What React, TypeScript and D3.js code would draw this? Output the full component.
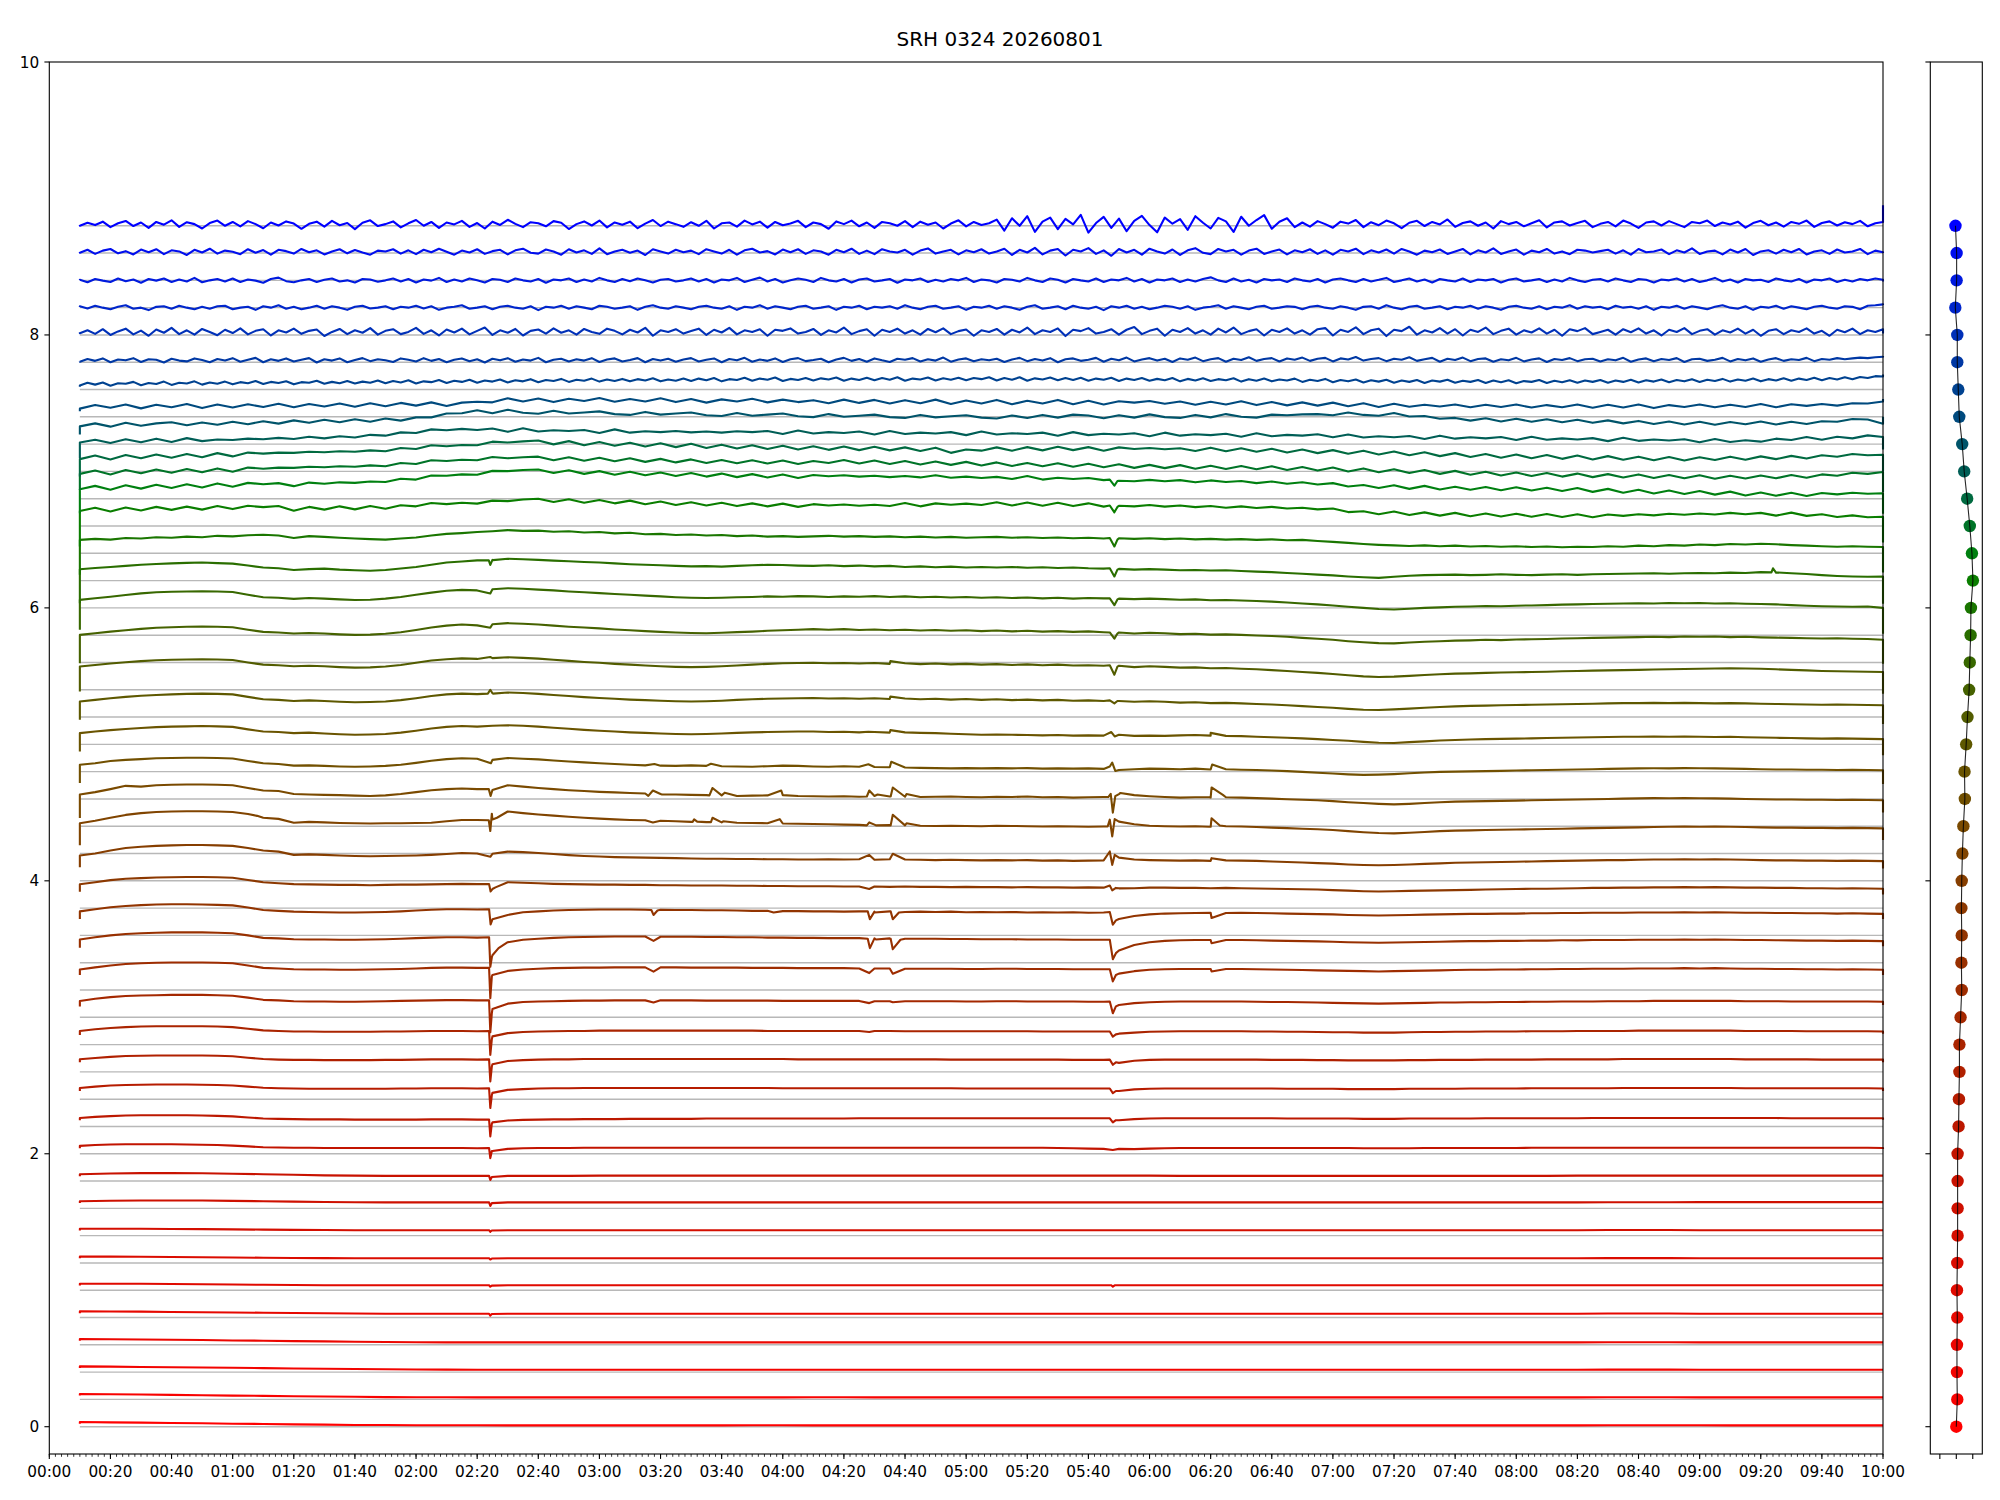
import React from "react";
import * as d3 from "d3";

// ================= DATA =================
const title = "SRH 0324 20260801";

// channel offsets (bottom -> top)
const offsets = [0, 0.2, 0.4, 0.6, 0.8, 1.0, 1.2, 1.4, 1.6, 1.8, 2.0, 2.2, 2.4, 2.6, 2.8, 3.0, 3.2, 3.4, 3.6, 3.8, 4.0, 4.2, 4.4, 4.6, 4.8, 5.0, 5.2, 5.4, 5.6, 5.8, 6.0, 6.2, 6.4, 6.6, 6.8, 7.0, 7.2, 7.4, 7.6, 7.8, 8.0, 8.2, 8.4, 8.6, 8.8];

const colors = ["#ff0000", "#f80200", "#f20400", "#ec0600", "#e60800", "#e00a00", "#da0c00", "#d40e00", "#ce1000", "#c81200", "#c21400", "#bc1800", "#b61c00", "#b02000", "#aa2400", "#a42800", "#9e2c00", "#983000", "#923400", "#8c3800", "#863e00", "#804400", "#7a4a00", "#725000", "#6a5400", "#5e5800", "#525c00", "#466200", "#386800", "#2a6e00", "#1a7600", "#0a7e00", "#008010", "#007428", "#006a40", "#005e56", "#00546a", "#004a7e", "#004290", "#0038a4", "#0030b8", "#0026cc", "#001ade", "#000eee", "#0000ff"];

// side panel marker positions
const dotX = [0.0, 0.06, 0.04, 0.04, 0.06, 0.04, 0.06, 0.08, 0.08, 0.08, 0.08, 0.14, 0.16, 0.19, 0.19, 0.26, 0.33, 0.31, 0.33, 0.31, 0.33, 0.37, 0.43, 0.52, 0.5, 0.6, 0.68, 0.78, 0.82, 0.87, 0.89, 1.01, 0.95, 0.82, 0.66, 0.48, 0.36, 0.18, 0.12, 0.06, 0.06, -0.06, 0.02, 0.02, -0.05];

// first / last sample (thousandths above offset)
const startDev = [22, 28, 30, 30, 32, 35, 34, 38, 40, 35, 40, 45, 60, 70, 70, 80, 110, 110, 120, 120, 100, 60, 60, 116, 148, 180, 187, 195, 239, 234, 242, 249, 294, 264, 162, 96, 70, 40, 20, 5, 20, 4, 2, 8, 5];
const endDev = [10, 15, 17, 18, 28, 36, 34, 40, 46, 40, 35, 50, 60, 70, 80, 90, 110, 120, 120, 100, 90, 100, 100, 110, 120, 150, 170, 190, 210, 230, 260, 280, 290, 250, 200, 160, 200, 130, 110, 45, 10, 20, -8, 0, 150];

// sample series, thousandths of a unit above each channel offset, evenly spaced 00:10 -> 10:00
const dev_0_0 = [34,32,30,27,25,22,20,17,15,13,12,11,11,11,10,10,10,10,10,10,10,10,11,11,10,10,10,10,10,10,10,10,10,10,10,10,10,10,10,10,10,10,10,10,10,10,10,10,10,10,11,11,11,11,10,10,10,10,10,10];
const dev_0_2 = [40,38,36,33,31,28,26,23,21,19,17,16,16,15,15,15,15,15,15,15,15,15,15,15,16,16,15,15,15,15,15,15,15,15,15,15,15,15,15,15,15,15,15,15,15,15,15,15,15,15,16,16,16,15,15,15,15,15,15,15];
const dev_0_4 = [42,40,38,36,34,32,29,27,25,23,21,19,18,17,17,17,17,17,17,17,17,17,17,17,17,17,17,17,17,17,17,17,17,17,17,17,17,17,17,17,17,17,17,17,17,17,17,17,17,17,18,18,18,17,17,17,17,17,17,17];
const dev_0_6 = [42,41,39,37,35,32,30,27,25,23,21,19,18,18,18,18,18,18,18,18,18,18,18,18,18,18,18,18,18,18,18,18,18,18,18,18,18,18,18,18,18,18,18,18,18,18,18,18,18,18,19,19,19,18,18,18,18,18,18,18];
const dev_0_8 = [45,44,43,41,39,37,35,33,31,29,28,28,28,28,28,28,28,28,28,28,28,28,28,28,28,28,28,28,28,28,28,28,28,28,28,28,28,28,28,28,28,28,28,28,28,28,28,28,28,28,29,29,29,28,28,28,28,28,28,28];
const dev_1_0 = [48,48,47,46,44,42,40,38,37,36,36,36,36,36,36,36,36,36,36,36,36,36,36,36,36,36,36,36,36,36,36,36,36,36,36,36,36,36,36,36,36,36,36,36,36,36,36,36,36,36,37,37,37,36,36,36,36,36,36,36];
const dev_1_2 = [46,46,45,44,42,40,38,36,35,34,34,34,34,34,34,34,34,34,34,34,34,34,34,34,34,34,34,34,34,34,34,34,34,34,34,34,34,34,34,34,34,34,34,34,34,34,34,34,34,34,35,35,35,34,34,34,34,34,34,34];
const dev_1_4 = [50,50,50,49,48,46,44,42,41,40,40,40,40,40,40,40,40,40,40,40,40,40,40,40,40,40,40,40,40,40,40,40,40,40,40,40,40,40,40,40,40,40,40,40,40,40,40,40,40,40,41,41,41,40,40,40,40,40,40,40];
const dev_1_6 = [52,56,58,58,57,55,52,49,47,45,44,44,44,44,44,44,44,44,44,44,44,44,44,44,44,44,44,44,44,44,44,44,44,44,44,44,44,44,44,44,44,44,44,44,44,44,44,44,44,44,45,45,45,46,46,46,46,46,46,46];
const dev_1_8 = [50,55,58,58,57,54,50,46,42,40,38,38,38,38,38,38,38,40,40,40,40,40,40,40,40,40,40,40,40,40,40,40,40,40,40,40,38,38,38,38,38,38,38,38,38,38,38,38,38,40,40,40,40,40,40,40,40,40,40,40];
const dev_2_0 = [58,64,68,70,70,70,70,68,66,64,60,54,48,46,44,44,42,42,42,42,42,42,42,42,42,42,40,20,36,40,42,42,42,44,44,44,44,44,44,44,44,44,44,44,44,44,44,44,44,44,44,44,44,44,44,44,44,44,44,44,44,44,44,44,42,40,38,36,36,34,38,40,42,42,42,42,42,42,42,42,42,42,42,42,40,40,40,40,42,42,42,42,42,42,42,44,44,44,44,44,44,44,44,44,44,44,44,44,44,44,44,44,44,44,44,44,44,44,42];
const dev_2_2 = [62,70,76,80,82,82,82,82,80,78,74,66,58,56,54,52,52,52,50,50,50,50,50,52,52,52,50,30,44,48,50,52,52,54,54,54,56,56,56,56,56,58,58,58,58,58,58,58,58,58,58,60,60,60,60,60,60,60,60,60,60,60,60,60,60,60,60,60,46,54,58,60,60,60,60,60,60,60,60,58,58,58,58,58,56,56,56,58,58,58,58,58,60,60,60,60,60,60,60,62,62,62,62,62,62,62,62,62,62,62,62,62,60,60,60,60,60,60,60];
const dev_2_4 = [82,92,100,104,106,108,108,108,106,104,100,92,84,80,78,76,76,76,76,76,76,78,78,80,80,80,78,46,68,74,78,80,80,82,82,82,82,82,82,82,82,82,82,82,82,82,80,80,80,80,80,80,80,80,80,80,80,80,78,78,78,78,78,78,78,78,78,78,60,72,76,78,78,78,78,78,78,78,78,76,76,76,76,74,74,74,74,76,76,76,76,78,78,78,78,80,80,80,80,80,80,82,82,82,82,82,82,82,82,80,80,80,80,80,80,80,80,80,78];
const dev_2_6 = [92,102,110,116,118,120,120,120,120,118,114,104,94,90,88,88,86,86,86,86,88,88,90,92,92,92,90,56,80,86,90,92,92,94,94,94,94,94,94,94,94,94,94,94,94,94,94,92,92,92,92,92,92,92,92,92,92,90,90,90,90,90,90,90,90,88,88,88,66,82,88,90,90,90,90,90,90,90,88,88,88,86,86,84,84,84,84,86,86,88,88,88,90,90,90,90,92,92,92,92,92,94,94,94,94,94,94,94,94,92,92,92,92,92,90,90,90,90,90];
const dev_2_8 = [100,112,122,128,132,134,134,134,134,132,128,116,104,100,96,96,94,94,94,94,96,96,98,100,100,100,98,60,84,92,96,98,100,100,102,102,102,102,102,102,102,102,102,102,102,100,100,100,100,100,100,100,100,100,98,98,98,98,98,98,98,98,98,96,96,96,96,96,80,88,94,96,98,98,98,98,98,96,96,94,94,92,90,90,88,88,88,90,92,92,94,94,96,96,96,98,98,98,100,100,100,100,102,102,102,102,102,102,102,100,100,100,100,98,98,98,98,98,96];
const dev_3_0 = [120,136,148,156,160,162,164,164,164,162,158,144,128,124,118,116,116,114,114,116,118,120,122,124,126,126,124,60,100,112,116,118,120,122,122,124,124,124,124,124,124,122,122,122,122,122,120,120,120,120,120,120,118,118,118,118,118,118,116,116,118,118,116,116,116,116,114,114,90,104,110,114,116,116,116,116,116,114,112,112,110,108,106,104,102,100,102,104,106,108,108,110,110,112,112,114,114,116,116,116,118,118,118,120,120,120,120,120,120,118,118,118,116,116,116,116,116,116,114];
const dev_3_2 = [150,166,180,190,196,200,202,202,202,200,196,180,162,158,152,150,150,148,148,150,152,154,158,162,164,164,162,110,140,150,156,160,162,164,164,166,166,166,166,166,164,164,164,164,162,162,162,160,160,160,160,158,158,158,156,156,156,156,154,154,156,156,154,154,154,152,152,152,120,138,148,152,154,154,154,154,154,152,150,148,146,144,142,140,138,136,138,140,142,144,146,148,148,150,150,152,152,154,154,156,156,156,158,158,158,160,158,160,158,156,156,154,154,152,152,150,152,150,148];
const dev_3_4 = [170,186,200,210,216,220,222,222,222,220,216,200,182,178,172,170,170,168,168,170,172,176,180,184,186,186,184,55,150,168,176,182,186,188,190,192,192,192,190,190,190,188,188,186,186,184,184,182,182,180,180,180,178,178,176,176,176,174,174,172,172,172,170,170,170,168,168,168,90,130,150,160,164,166,166,166,166,164,162,160,158,156,154,150,148,146,148,150,152,154,156,158,158,160,160,162,162,164,164,166,166,166,168,168,168,170,168,170,168,166,166,164,164,162,162,160,162,160,158];
const dev_3_6 = [176,192,206,216,222,226,228,228,226,224,220,204,186,180,174,172,170,168,168,170,172,176,182,188,192,192,190,118,150,170,176,182,186,188,190,190,190,188,188,186,186,184,184,182,180,180,178,178,176,176,174,176,174,176,172,174,172,174,170,172,170,172,168,170,168,170,166,168,120,142,154,160,162,164,166,164,166,164,162,160,158,156,154,150,148,146,148,150,152,154,156,158,158,160,160,162,162,164,164,166,166,166,168,168,168,170,168,170,168,166,166,164,164,162,162,160,162,160,158];
const dev_3_8 = [175,190,205,215,220,224,226,228,228,226,222,206,190,182,176,174,172,170,170,168,170,172,172,174,176,178,176,140,190,186,182,178,176,174,172,172,170,170,168,168,166,166,166,164,164,162,162,160,160,160,158,158,158,156,158,156,156,154,156,154,154,152,154,152,152,150,152,150,145,146,150,150,148,148,146,148,146,144,142,140,138,136,132,128,124,122,124,126,128,130,132,134,136,138,140,142,142,144,146,148,148,150,150,152,152,154,152,154,152,150,150,148,148,146,146,144,146,144,142];
const dev_4_0 = [185,200,222,240,250,256,260,262,262,260,256,240,222,214,190,194,190,186,182,180,182,184,186,190,196,204,200,198,214,210,204,196,188,182,178,174,172,170,168,166,164,162,162,160,160,158,158,156,156,158,156,158,154,158,156,154,152,154,152,150,152,150,152,148,150,146,148,150,170,156,152,150,148,150,146,150,148,146,142,138,134,130,126,120,116,114,116,120,124,128,132,134,136,138,140,142,144,146,148,150,152,152,154,156,156,158,156,158,156,154,152,150,150,148,148,146,148,146,144];
const dev_4_2 = [222,240,262,283,296,304,308,310,310,308,304,290,262,254,226,232,228,224,222,220,222,222,224,226,236,246,246,250,308,296,286,278,270,262,256,250,246,244,240,236,232,230,228,226,224,222,220,218,216,214,212,210,212,208,206,204,202,204,202,200,204,202,200,198,200,198,196,198,234,215,204,200,198,200,196,200,198,194,190,186,182,178,172,164,156,150,148,152,158,164,168,170,172,174,176,178,180,182,184,186,188,190,192,194,196,198,196,198,196,194,192,190,190,188,188,186,188,186,184];
const dev_4_4 = [232,250,272,296,290,300,304,306,306,304,300,280,262,258,236,232,230,228,224,222,226,236,250,264,272,276,272,266,300,290,280,272,264,258,252,248,244,240,236,232,230,228,226,222,224,226,228,222,220,218,220,216,222,218,216,214,216,218,214,212,216,214,218,212,214,210,212,214,236,228,220,214,210,212,210,212,210,206,202,198,194,190,184,176,170,164,160,164,170,176,180,182,184,186,188,190,192,194,196,198,200,202,204,206,205,206,205,204,202,200,198,196,196,194,194,192,194,192,190];
const dev_4_6 = [250,262,278,286,292,298,300,302,302,300,296,278,262,256,244,246,242,238,236,238,242,250,264,280,292,298,294,286,300,294,290,282,274,268,262,256,250,246,244,242,246,242,240,238,236,240,244,242,238,236,240,236,234,232,230,228,226,224,226,224,226,224,226,222,224,222,224,220,212,218,222,220,218,222,216,218,214,212,208,204,198,192,186,180,176,178,182,188,194,198,200,202,204,206,208,210,212,214,216,218,220,222,224,225,224,226,225,224,222,220,218,216,216,214,214,212,214,212,210];
const dev_4_8 = [282,294,304,312,320,326,330,332,334,332,328,310,294,290,282,286,280,274,270,272,276,286,300,316,328,334,330,336,340,336,330,322,314,306,300,294,288,284,280,276,274,276,280,284,288,290,292,294,294,290,292,288,290,286,288,284,282,278,274,270,272,270,268,266,268,264,266,264,270,262,264,262,266,268,264,262,260,256,252,248,244,238,232,226,218,212,210,216,222,228,232,236,238,240,242,244,246,248,250,252,254,256,256,258,256,258,256,254,256,252,250,248,246,244,242,244,242,240,238];
const dev_5_0 = [314,326,338,348,356,362,366,370,372,370,366,348,330,326,318,322,318,312,308,310,314,324,338,354,366,372,368,374,380,376,370,362,354,346,340,334,328,324,320,316,314,316,320,326,330,334,336,338,340,336,338,334,338,332,336,330,334,328,332,326,330,324,328,322,326,320,322,318,318,312,316,312,306,308,302,304,300,296,292,286,280,274,268,260,254,252,256,262,268,274,278,282,284,286,288,290,292,294,296,298,300,302,302,304,302,304,302,300,302,300,298,296,294,292,290,292,290,288,286];
const dev_5_2 = [370,382,392,402,410,416,420,422,424,422,418,400,384,380,372,376,372,366,362,364,370,382,398,414,424,430,426,432,438,434,428,420,412,404,398,390,384,378,372,368,366,368,372,378,384,390,394,396,398,394,396,392,396,390,394,388,392,386,390,384,388,382,386,380,384,378,380,376,376,366,372,368,362,364,358,360,354,350,344,338,330,324,316,306,298,294,296,302,308,314,318,320,324,326,328,330,332,336,338,340,342,344,346,348,350,352,354,356,358,356,354,350,346,342,338,336,334,332,330];
const dev_5_4 = [402,414,426,436,446,454,458,462,464,462,458,440,424,420,412,416,412,406,402,404,410,422,438,456,470,478,472,480,488,484,478,470,462,456,450,442,436,430,424,420,416,414,418,422,426,432,436,440,444,440,444,438,442,436,440,434,438,432,436,430,434,428,432,426,430,424,428,422,420,412,418,414,408,410,404,406,402,398,394,388,380,374,366,356,348,342,340,346,352,356,360,362,366,364,368,370,372,376,378,380,382,384,386,388,386,390,388,390,386,388,384,382,380,378,376,378,374,372,366];
const dev_5_6 = [459,470,482,494,506,514,518,520,522,520,516,496,478,474,466,472,468,462,458,460,468,480,496,512,526,532,528,536,544,540,534,528,520,514,508,502,496,490,484,478,474,472,474,478,480,484,482,486,484,480,484,482,486,480,484,478,482,476,480,474,478,472,476,470,474,468,472,470,468,464,468,464,460,462,456,458,454,450,446,440,432,426,418,408,400,392,388,394,400,404,408,410,414,412,416,418,420,424,426,428,430,432,434,432,436,434,436,432,434,430,428,426,420,416,412,410,408,410,400];
const dev_5_8 = [483,492,500,508,516,522,526,530,532,528,524,510,496,490,478,484,488,480,476,472,478,488,500,516,532,540,548,552,560,556,552,546,542,536,532,526,520,516,512,508,504,506,502,508,512,516,514,510,508,512,506,510,504,508,500,504,498,502,496,500,496,500,494,498,492,496,490,488,486,480,484,480,476,478,474,476,470,466,462,456,450,444,438,430,424,420,428,436,440,442,444,440,442,446,442,440,444,446,442,446,448,450,452,454,450,454,456,454,458,456,462,458,454,448,440,434,430,428,429];
const dev_6_0 = [498,506,500,512,508,518,514,522,518,528,524,532,536,530,512,526,520,514,508,504,500,508,516,530,542,548,556,562,570,564,566,558,562,552,556,546,550,540,542,534,538,530,534,526,530,522,526,520,524,528,522,526,520,524,518,522,516,520,514,518,520,514,518,512,516,510,514,508,510,506,510,504,508,502,506,500,504,498,502,496,498,490,484,476,468,462,458,454,458,452,456,450,454,448,452,446,450,444,448,446,452,448,456,452,460,456,464,460,468,464,470,466,460,456,452,448,452,448,446];
const dev_6_2 = [510,534,506,536,514,540,518,542,520,546,524,548,538,546,512,540,520,544,522,546,526,552,544,568,560,570,564,586,582,594,600,576,596,570,590,566,586,560,580,554,574,550,570,546,566,544,564,540,560,550,558,548,556,546,568,544,566,556,564,554,574,550,572,548,570,546,566,542,548,544,554,542,550,538,546,534,544,532,540,528,534,522,528,502,508,486,506,480,500,476,496,472,492,470,490,468,488,466,486,464,484,474,486,478,490,482,492,484,496,486,496,476,498,474,486,466,478,464,468];
const dev_6_4 = [470,494,466,498,474,502,478,506,482,512,488,516,506,514,492,518,510,520,516,526,522,546,540,570,568,578,576,604,602,610,614,588,608,582,602,576,598,572,592,566,588,562,584,558,580,556,578,552,574,564,572,562,568,558,566,556,572,554,562,552,560,544,566,540,554,544,552,536,532,528,538,528,536,520,534,522,530,514,526,510,520,504,514,490,500,478,498,472,494,468,488,466,486,462,484,460,480,456,478,450,472,444,466,438,460,434,456,430,452,424,446,422,444,420,442,432,444,436,440];
const dev_6_6 = [382,406,378,410,386,414,390,418,394,422,398,428,420,428,426,434,430,438,434,444,438,462,454,482,476,486,482,506,496,504,508,482,504,478,500,474,496,470,492,466,488,462,484,460,482,458,480,454,476,462,484,458,480,454,476,450,472,448,470,444,466,440,462,438,460,434,456,430,452,426,448,424,446,420,442,418,440,416,438,410,432,406,428,400,422,394,416,388,410,382,404,376,398,370,392,366,388,362,384,358,380,356,378,352,374,350,372,346,368,348,370,350,374,354,378,368,390,382,396];
const dev_6_8 = [290,316,288,320,296,324,300,328,304,334,310,338,330,338,336,344,340,348,344,354,348,372,364,392,384,394,392,418,412,420,426,398,422,392,416,388,410,382,406,378,402,372,396,368,392,364,388,360,384,358,382,356,380,354,376,350,374,336,360,352,376,352,378,354,380,356,378,352,376,364,372,362,370,350,374,348,370,344,366,338,360,334,356,330,352,324,346,318,340,312,334,306,328,300,324,296,320,292,316,288,312,286,308,282,306,280,304,284,308,286,310,290,314,294,318,308,328,318,322];
const dev_7_0 = [212,232,208,236,214,240,216,244,222,234,230,240,236,246,238,254,242,258,248,268,262,286,282,308,302,312,304,314,290,316,292,302,296,304,282,308,284,294,288,296,286,292,284,294,288,296,274,300,278,288,282,292,270,296,274,284,278,288,266,292,270,280,274,284,262,288,266,276,270,280,258,284,262,272,266,276,254,280,258,268,262,272,250,270,248,258,250,260,238,262,240,250,242,252,230,254,232,242,234,244,222,246,224,234,226,236,214,238,216,228,218,240,230,252,232,254,242,264,252];
const dev_7_2 = [130,152,128,156,134,152,160,138,158,142,164,146,168,150,174,156,178,160,182,164,188,172,196,196,224,226,248,226,252,230,222,244,224,232,240,220,214,236,216,224,232,212,206,228,208,216,224,204,198,220,200,208,216,198,192,214,196,204,212,194,188,210,192,214,194,216,210,190,212,194,218,198,192,214,196,220,200,194,216,212,218,220,212,232,214,208,228,202,206,186,192,172,190,166,186,164,182,160,178,156,174,152,170,148,166,144,164,142,162,146,166,144,164,148,168,164,184,180,150];
const dev_7_4 = [60,86,66,90,62,88,70,94,64,90,68,92,72,96,70,94,76,98,74,100,78,102,82,106,80,104,110,106,136,112,134,108,132,116,138,110,130,112,136,108,130,104,128,112,132,106,126,108,122,100,126,102,124,98,122,100,126,94,120,98,124,92,118,98,124,92,118,90,114,104,116,96,112,88,110,90,114,86,108,84,106,82,104,78,100,72,96,74,88,76,90,70,88,72,90,68,86,70,90,66,88,68,90,64,86,72,90,70,88,72,94,70,92,80,94,82,100,98,112];
const dev_7_6 = [30,50,36,52,28,46,42,56,32,48,40,58,34,50,44,60,36,52,42,58,38,54,46,62,40,56,48,60,38,54,50,64,42,56,46,62,44,58,50,66,46,62,52,68,44,60,54,70,48,64,56,72,50,66,58,74,52,68,60,76,54,70,62,78,56,72,64,80,58,74,62,78,60,76,66,82,60,74,64,80,62,80,68,84,60,76,70,86,64,80,72,88,62,78,70,84,66,82,74,88,64,80,70,86,68,84,72,90,64,80,74,88,66,82,72,86,68,84,76,90,66,84,72,90,64,82,74,88,68,84,70,86,64,80,72,86,62,80,70,84,64,78,68,84,60,78,66,82,62,76,68,82,58,76,64,80,60,74,66,80,56,72,62,78,54,70,60,74,52,68,58,72,50,66,56,70,48,66,58,72,50,64,56,70,48,66,54,68,46,62,56,70,48,64,54,68,50,66,56,70,50,66,56,72,52,68,58,74,54,70,60,76,56,72,62,78,58,74,64,80,60,76,66,82,64,80,70,86,68,84,74,90,76,92,84,98,96];
const dev_7_8 = [4,24,10,28,0,20,14,30,2,22,18,-2,26,12,6,28,16,0,24,12,30,4,18,32,0,22,10,28,6,18,30,-2,22,12,28,0,16,30,8,22,14,2,28,18,6,30,10,24,0,18,28,8,22,-2,26,14,30,4,20,12,32,0,18,26,6,22,12,30,2,20,28,6,16,30,0,24,12,26,4,20,30,6,18,28,0,24,14,32,4,20,10,28,2,22,30,8,16,26,0,20,32,10,24,4,28,14,2,26,18,30,6,22,12,34,4,20,28,8,22,14,26,2,20,32,8,24,12,30,0,22,28,10,18,32,4,26,14,34,6,20,30,12,26,2,28,18,34,8,22,30,4,26,16,36,10,24,30,6,28,18,34,10,26,32,6,28,20,38,12,24,30,8,26,18,36,10,22,32,4,26,16,34,8,24,28,4,22,14,32,6,20,28,2,24,16,30,8,22,26,6,22,14,32,4,20,28,8,24,16,30,2,22,26,10,18,32,6,24,14,28,4,20,30,10,22,16,32,8,24,18,30,22,28,34,30,36,40];
const dev_8_0 = [12,34,8,42,0,26,46,4,32,-6,40,16,52,6,34,2,44,22,-2,38,14,48,4,30,42,-4,34,18,46,8,30,40,-8,22,44,6,34,16,50,2,30,42,6,22,52,8,34,-4,40,18,46,4,30,54,0,34,16,44,-4,30,40,10,48,16,34,2,44,22,8,46,30,4,38,18,52,-6,34,22,42,10,28,46,0,38,18,52,4,34,22,42,-6,38,30,48,10,22,44,0,34,18,54,6,28,42,-6,38,22,46,10,34,2,44,20,48,6,28,40,-6,34,22,44,2,38,18,54,6,34,22,48,-8,38,28,50,10,22,42,2,38,58,6,30,46,-6,38,22,50,10,34,2,46,18,54,6,28,42,-4,38,22,48,10,34,2,42,50,-4,38,22,56,6,34,46,-8,38,28,60,2,34,18,50,10,42,-4,38,22,54,6,30,46,2,34,18,48,10,38,-6,42,28,50,6,22,38,2,42,20,48,10,34,-4,38,22,50,6,30,42,2,34,18,46,10,38,-6,30,42,6,34,22,48,10,30,-6,38,20,46,6,34,22,42];
const dev_8_2 = [10,-6,14,0,-12,6,18,-8,0,-18,6,10,-8,14,0,-12,6,-8,10,14,-12,0,6,-16,10,0,18,-8,6,-12,0,14,-8,10,0,-16,6,14,-6,0,10,-12,6,0,14,-6,10,-16,0,6,18,-8,0,10,-12,6,14,0,-8,10,-18,6,0,14,-8,10,0,-12,14,6,-8,0,10,-16,6,18,0,-8,10,0,-12,6,14,0,-8,10,-16,6,0,18,-8,10,0,-12,6,14,-8,0,10,-16,6,0,14,-12,6,0,10,-8,18,0,-12,6,14,-8,0,10,-16,6,0,14,-8,10,0,-16,6,18,-8,0,10,-12,14,0,-8,6,-18,10,0,14,-8,6,-12,0,14,6,-8,10,-16,0,6,18,-8,10,0,-12,6,14,-8,0,10,6,-12,6,14,0,-8,10,0,-16,6,10,-8,18,0,-12,6,14,-8,0,10,-12,6,0,14,-8,10,0,-16,6,14,0,-8,10,-12,6,0,18,-8,10,0,6,-12,14,0,6,-8,10,-16,6,0,14,-8,10,0,-12,6,18,0,-8,10,-16,6,0,14,-8,10,0,-12,6,14,0,-8,10,6,-12,14,18,24];
const dev_8_4 = [4,-14,10,-2,-12,14,-6,6,-18,10,-2,14,-12,6,-8,18,-14,0,10,-8,14,-12,6,-2,-18,10,20,-6,-14,0,10,-12,4,14,-8,0,-16,10,6,-10,0,14,-8,10,-16,6,-2,18,-12,6,-8,14,0,-16,10,4,-12,14,0,-8,10,-18,6,0,14,-12,6,-8,18,0,-12,10,-6,14,0,-16,4,10,-8,0,14,-8,10,-16,6,0,18,-12,4,20,-8,10,-16,0,14,4,-12,18,0,-8,10,-16,6,14,-8,0,10,-18,6,0,14,-12,4,-8,10,0,18,-12,6,0,-16,10,4,-8,18,0,-12,14,4,-16,10,0,-8,14,-12,6,0,18,-8,10,-16,6,0,14,-12,6,-8,10,22,0,-12,14,-8,4,-16,10,0,6,-12,14,0,-8,10,-16,6,14,0,-12,10,-8,4,18,-12,0,14,-8,6,-16,10,0,-8,14,-12,6,0,10,-16,4,14,-8,0,10,-12,6,-8,18,0,-12,4,10,-8,14,0,-12,10,4,-16,6,0,14,-8,10,-12,0,18,-8,6,-16,10,0,4,-12,14,0,-8,10,-16,6,0,14,-12,4,-8,10,0,14,4];
const dev_8_6 = [2,24,-6,18,30,-2,14,-10,26,6,28,-8,20,12,-14,24,4,32,-4,18,10,-8,28,2,22,-12,24,14,-4,30,6,20,-10,12,28,-2,22,4,-12,18,12,28,-4,20,-8,24,6,32,10,-12,18,4,28,-6,14,24,-10,20,32,2,-4,26,12,-12,28,4,20,-6,34,-8,12,24,2,18,-14,28,12,-4,24,6,18,-8,28,12,-4,24,-12,20,32,4,14,-10,26,6,28,-6,20,12,-12,24,6,32,-6,18,-8,28,12,4,24,-12,18,34,-4,12,24,-10,20,6,28,-4,12,32,-14,24,4,38,-10,18,30,-18,24,12,36,-6,20,-20,30,4,24,-12,32,12,-4,26,-14,20,36,2,-8,30,12,24,-12,18,32,-6,12,26,-10,20,6,28,-6,20,-12,24,12,32,-8,20,4,26,-4,30,12,-12,18,6,26,-6,12,30,-10,20,4,34,-6,12,26,-12,18,6,30,-4,12,-8,24,18,4,14,24,-4,20,-12,30,6,12,26,-8,20,4,34,-6,12,18,-10,26,4,30,-14,12,20,-4,24,6,30,-10,12,20,-6,26,4,12,30,-8,18,6];
const dev_8_8 = [0,22,5,30,-10,18,35,-2,24,-15,28,8,40,-8,26,12,-20,20,38,0,28,-5,34,12,-18,24,2,32,16,-22,14,30,-6,36,4,20,-25,22,40,-2,12,32,-12,18,42,0,28,-16,24,10,36,-8,20,-20,30,6,44,14,-10,26,18,-4,34,22,-24,12,32,2,38,-12,24,8,30,-18,16,42,-2,30,12,-8,26,0,36,-20,18,24,-6,38,10,30,-14,28,4,16,36,-10,24,12,-22,32,12,38,-4,24,-16,28,18,0,34,-10,30,8,24,-20,16,40,-4,28,6,18,45,-35,55,0,70,-45,30,60,-25,50,10,80,-50,20,65,-15,52,-40,35,72,5,-48,60,15,48,-30,70,22,-20,58,32,-45,66,0,42,78,-22,30,55,-10,24,-6,34,12,-14,30,16,42,-10,26,4,38,18,-18,22,36,-2,28,10,46,-8,20,32,0,24,-20,34,12,28,-4,18,40,-12,24,32,2,20,36,-10,14,28,-4,38,16,-16,24,32,2,34,12,-10,28,18,38,-2,24,10,30,-14,20,36,4,24,-6,28,14,38,-8,20,32,2,26,12,36,-4,18,28];

// sharp events: [channel offset, minute, thousandths above offset]
const events: [number, number, number][] = [
  [6.4, 347, 540], [6.4, 348.5, 495], [6.4, 349.5, 530],
  [6.2, 347, 550], [6.2, 348.5, 500], [6.2, 349.5, 540],
  [6.0, 347, 512], [6.0, 348.5, 450], [6.0, 349.5, 500],
  [5.8, 143.8, 548], [5.8, 144.3, 515], [5.8, 145.2, 550], [5.8, 347, 490], [5.8, 348.5, 430], [5.8, 349.5, 480], [5.8, 563.5, 460], [5.8, 564, 490], [5.8, 565, 460],
  [5.6, 144.3, 505], [5.6, 347, 470], [5.6, 348.5, 420], [5.6, 349.5, 462],
  [5.4, 144.3, 455], [5.4, 347, 420], [5.4, 348.5, 375], [5.4, 349.5, 412],
  [5.2, 144.3, 440], [5.2, 275.2, 410], [5.2, 347, 380], [5.2, 348.5, 310], [5.2, 349.5, 370],
  [5.0, 143.5, 372], [5.0, 144.3, 400], [5.0, 145.2, 372], [5.0, 275.2, 350], [5.0, 347, 322], [5.0, 348.5, 300], [5.0, 349.5, 318],
  [4.8, 268, 292], [4.8, 275.2, 304], [4.8, 347.5, 290], [4.8, 348.6, 258], [4.8, 380, 284],
  [4.6, 144.5, 262], [4.6, 198, 256], [4.6, 216.5, 258], [4.6, 268, 254], [4.6, 275.5, 272], [4.6, 347, 238], [4.6, 347.8, 266], [4.6, 348.8, 205], [4.6, 380.5, 252],
  [4.4, 143.8, 272], [4.4, 144.4, 222], [4.4, 196, 222], [4.4, 197.5, 262], [4.4, 200.5, 232], [4.4, 216, 226], [4.4, 217, 280], [4.4, 221, 246], [4.4, 239.5, 262],
  [4.4, 267.5, 218], [4.4, 268.3, 262], [4.4, 271, 232], [4.4, 275.3, 218], [4.4, 276, 284], [4.4, 280.5, 236],
  [4.4, 346.5, 214], [4.4, 347.3, 238], [4.4, 348, 100], [4.4, 348.8, 220], [4.4, 350.5, 244], [4.4, 379.5, 212], [4.4, 380.3, 284], [4.4, 384, 230],
  [4.2, 68, 276], [4.2, 143.8, 244], [4.2, 144.3, 165], [4.2, 144.8, 292], [4.2, 146.5, 262], [4.2, 197.5, 228], [4.2, 210.5, 232], [4.2, 211, 250], [4.2, 212, 234],
  [4.2, 216.5, 230], [4.2, 217, 262], [4.2, 220.5, 236], [4.2, 239, 252], [4.2, 267.5, 206], [4.2, 268.3, 228], [4.2, 270.5, 206], [4.2, 275.3, 206], [4.2, 276, 284], [4.2, 280.5, 222],
  [4.2, 346.3, 198], [4.2, 347, 248], [4.2, 347.8, 125], [4.2, 348.6, 252], [4.2, 379.5, 196], [4.2, 380.3, 259], [4.2, 383, 205],
  [4.0, 144.3, 176], [4.0, 268.3, 190], [4.0, 276, 198], [4.0, 347, 215], [4.0, 347.8, 117], [4.0, 348.6, 190], [4.0, 380.3, 166],
  [3.8, 143.9, 176], [3.8, 144.4, 122], [3.8, 146, 152], [3.8, 268.3, 140], [3.8, 347, 165], [3.8, 347.8, 130], [3.8, 349, 148],
  [3.6, 143.9, 192], [3.6, 144.4, 80], [3.6, 197, 186], [3.6, 197.7, 150], [3.6, 199, 182], [3.6, 237, 168], [3.6, 267.8, 176], [3.6, 268.5, 119], [3.6, 270, 168],
  [3.6, 275.3, 176], [3.6, 276, 119], [3.6, 278, 168], [3.6, 347, 172], [3.6, 348, 78], [3.6, 349, 110], [3.6, 380.3, 128],
  [3.4, 143.9, 186], [3.4, 144.3, -30], [3.4, 144.8, 40], [3.4, 147, 107], [3.4, 197.7, 160], [3.4, 267.8, 176], [3.4, 268.5, 107], [3.4, 270.5, 170],
  [3.4, 275.3, 176], [3.4, 276, 99], [3.4, 278.5, 168], [3.4, 347, 168], [3.4, 348, 26], [3.4, 349, 70], [3.4, 380.3, 143],
  [3.2, 143.9, 162], [3.2, 144.3, -60], [3.2, 144.8, 100], [3.2, 197.7, 135], [3.2, 268.3, 124], [3.2, 276, 119], [3.2, 347, 152], [3.2, 348, 63], [3.2, 349, 110], [3.2, 380.3, 136],
  [3.0, 143.9, 124], [3.0, 144.3, -110], [3.0, 144.8, 30], [3.0, 197.7, 108], [3.0, 268.3, 104], [3.0, 276, 110], [3.0, 347, 116], [3.0, 348, 30], [3.0, 349, 80],
  [2.8, 143.9, 100], [2.8, 144.3, -75], [2.8, 144.8, 40], [2.8, 268.3, 92], [2.8, 347, 96], [2.8, 348, 58], [2.8, 349, 75],
  [2.6, 143.9, 92], [2.6, 144.3, -70], [2.6, 144.8, 40], [2.6, 347, 90], [2.6, 348, 52], [2.6, 349, 70],
  [2.4, 143.9, 80], [2.4, 144.3, -65], [2.4, 144.8, 30], [2.4, 347, 78], [2.4, 348, 44], [2.4, 349, 60],
  [2.2, 143.9, 50], [2.2, 144.3, -73], [2.2, 144.8, 20], [2.2, 347, 60], [2.2, 348, 30], [2.2, 349, 46],
  [2.0, 143.9, 42], [2.0, 144.3, -32], [2.0, 144.8, 20], [2.0, 348, 28],
  [1.8, 143.9, 38], [1.8, 144.3, 8], [1.8, 144.8, 30],
  [1.6, 143.9, 44], [1.6, 144.3, 18], [1.6, 144.8, 38],
  [1.4, 143.9, 40], [1.4, 144.3, 28], [1.4, 144.8, 38],
  [1.2, 143.9, 34], [1.2, 144.3, 25], [1.2, 144.8, 32],
  [1.0, 143.9, 36], [1.0, 144.3, 26], [1.0, 144.8, 34], [1.0, 347.5, 36], [1.0, 348, 26], [1.0, 348.6, 36],
  [0.8, 143.9, 28], [0.8, 144.3, 14], [0.8, 144.8, 26],
];

const xTickMinutes = [0, 20, 40, 60, 80, 100, 120, 140, 160, 180, 200, 220, 240, 260, 280, 300, 320, 340, 360, 380, 400, 420, 440, 460, 480, 500, 520, 540, 560, 580, 600];
const xTickLabels = ["00:00", "00:20", "00:40", "01:00", "01:20", "01:40", "02:00", "02:20", "02:40", "03:00", "03:20", "03:40", "04:00", "04:20", "04:40", "05:00", "05:20", "05:40", "06:00", "06:20", "06:40", "07:00", "07:20", "07:40", "08:00", "08:20", "08:40", "09:00", "09:20", "09:40", "10:00"];
const yTicks = [0, 2, 4, 6, 8, 10];
const sideXTicks = [-1, 0, 1];

const traceDevs = [dev_0_0, dev_0_2, dev_0_4, dev_0_6, dev_0_8, dev_1_0, dev_1_2, dev_1_4, dev_1_6, dev_1_8, dev_2_0, dev_2_2, dev_2_4, dev_2_6, dev_2_8, dev_3_0, dev_3_2, dev_3_4, dev_3_6, dev_3_8, dev_4_0, dev_4_2, dev_4_4, dev_4_6, dev_4_8, dev_5_0, dev_5_2, dev_5_4, dev_5_6, dev_5_8, dev_6_0, dev_6_2, dev_6_4, dev_6_6, dev_6_8, dev_7_0, dev_7_2, dev_7_4, dev_7_6, dev_7_8, dev_8_0, dev_8_2, dev_8_4, dev_8_6, dev_8_8];

// ================= LAYOUT =================
const W = 2000, H = 1500;
const PL = 49.3, PR = 1883, PT = 62, PB = 1454;
const SL = 1930.3, SR = 1982.3;
const T_START = 10, T_END = 600;
const FONT = "DejaVu Sans, Liberation Sans, sans-serif";

export default function App() {
  const x = d3.scaleLinear().domain([0, 600]).range([PL, PR]);
  const y = d3.scaleLinear().domain([-0.2, 10]).range([PB, PT]);
  const sx = d3.scaleLinear().domain([-1.58, 1.58]).range([SL, SR]);

  const line = d3
    .line<[number, number]>()
    .x((d) => x(d[0]))
    .y((d) => y(d[1]));

  const traces = offsets.map((off, k) => {
    const vals = traceDevs[k];
    const n = vals.length;
    const step = (T_END - T_START) / (n - 1);
    const pts: [number, number][] = [];
    vals.forEach((v, i) => pts.push([T_START + i * step, off + v / 1000]));
    events
      .filter((e) => Math.abs(e[0] - off) < 1e-6)
      .forEach((e) => pts.push([e[1], off + e[2] / 1000]));
    const body = pts.sort((a, b) => a[0] - b[0]);
    const all: [number, number][] = [[T_START, off + startDev[k] / 1000], ...body, [T_END, off + endDev[k] / 1000]];
    return { off, color: colors[k], d: line(all) || "" };
  });

  const minor = d3.range(0, 601, 2);
  const dotLine = d3
    .line<number>()
    .x((_, i) => sx(dotX[i]))
    .y((_, i) => y(offsets[i]));

  return (
    <svg width={W} height={H} style={{ position: "absolute", left: 0, top: 0, background: "#fff" }} fontFamily={FONT}>
      <rect x={0} y={0} width={W} height={H} fill="#fff" />
      <text x={1000} y={45.5} textAnchor="middle" fontSize={20} fill="#000">{title}</text>

      {/* baselines */}
      {offsets.map((o) => (
        <line key={"g" + o} x1={x(T_START)} x2={x(T_END)} y1={y(o)} y2={y(o)} stroke="#b8b8b8" strokeWidth={1.4} />
      ))}
      {/* traces */}
      {traces.map((t) => (
        <path key={"t" + t.off} d={t.d} fill="none" stroke={t.color} strokeWidth={2.1} strokeLinejoin="round" />
      ))}

      {/* main frame */}
      <rect x={PL} y={PT} width={PR - PL} height={PB - PT} fill="none" stroke="#000" strokeWidth={1.1} />
      {yTicks.map((v) => (
        <g key={"yt" + v}>
          <line x1={PL - 4.9} x2={PL} y1={y(v)} y2={y(v)} stroke="#000" strokeWidth={1.1} />
          <text x={PL - 10} y={y(v)} dy="0.36em" textAnchor="end" fontSize={15.3} fill="#000">{v}</text>
        </g>
      ))}
      {minor.map((m) => (
        <line key={"mx" + m} x1={x(m)} x2={x(m)} y1={PB} y2={PB + 2.8} stroke="#000" strokeWidth={0.8} />
      ))}
      {xTickMinutes.map((m, i) => (
        <g key={"xt" + m}>
          <line x1={x(m)} x2={x(m)} y1={PB} y2={PB + 4.9} stroke="#000" strokeWidth={1.1} />
          <text x={x(m)} y={PB + 22.5} textAnchor="middle" fontSize={15.3} fill="#000">{xTickLabels[i]}</text>
        </g>
      ))}

      {/* side panel */}
      <rect x={SL} y={PT} width={SR - SL} height={PB - PT} fill="none" stroke="#000" strokeWidth={1.1} />
      {yTicks.map((v) => (
        <line key={"syt" + v} x1={SL - 4.9} x2={SL} y1={y(v)} y2={y(v)} stroke="#000" strokeWidth={1.1} />
      ))}
      {sideXTicks.map((v) => (
        <line key={"sxt" + v} x1={sx(v)} x2={sx(v)} y1={PB} y2={PB + 4.9} stroke="#000" strokeWidth={1.1} />
      ))}
      {offsets.map((o, i) => (
        <circle key={"dot" + o} cx={sx(dotX[i])} cy={y(o)} r={6.2} fill={colors[i]} />
      ))}
      <path d={dotLine(offsets) || ""} fill="none" stroke="#000" strokeOpacity={0.85} strokeWidth={1.1} />
    </svg>
  );
}
